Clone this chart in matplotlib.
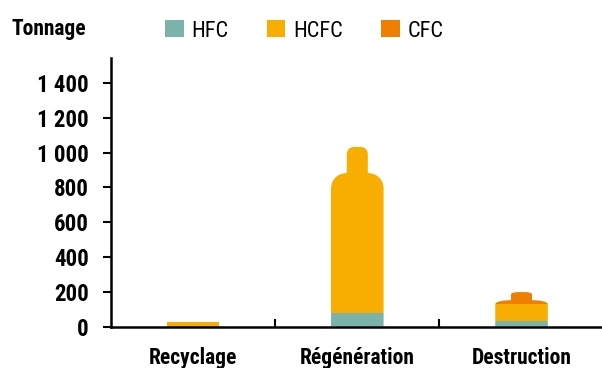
import matplotlib
matplotlib.use("Agg")
import matplotlib.pyplot as plt
import numpy as np
from matplotlib import font_manager
from matplotlib.path import Path
from matplotlib.patches import PathPatch

# data (tonnes)
categories = ["Recyclage", "Régénération", "Destruction"]
hfc = [5, 77, 30]
hcfc = [20, 956, 102]
cfc = [0, 0, 66]
yticks = [0, 200, 400, 600, 800, 1000, 1200, 1400]
ytick_labels = ["0", "200", "400", "600", "800", "1 000", "1 200", "1 400"]

colors = {"HFC": "#7AB3AA", "HCFC": "#F8AE00", "CFC": "#EE7F00"}

names = {f.name for f in font_manager.fontManager.ttflist}
FONT = next((n for n in ["Liberation Sans Narrow", "Roboto Condensed", "Roboto"]
             if n in names), "DejaVu Sans")
plt.rcParams["font.family"] = [FONT, "DejaVu Sans"]


def bottle_path(c, w, top):
    # gas cylinder outline: body, rounded shoulders, neck with rounded cap
    x0, x1 = c - w / 2, c + w / 2
    nw = w * 0.4
    n0, n1 = c - nw / 2, c + nw / 2
    neck = 0.124 * top + 22
    sh = 0.08 * top + 8
    y_nb = top - neck
    y_b = y_nb - sh
    r = neck * 0.3
    rx = nw * 0.35
    f = 0.12 * w  # small flare where shoulder meets neck
    verts = [(x0, 0), (x0, y_b),
             (x0, y_b + sh * 0.75), (n0 - f, y_nb), (n0, y_nb),
             (n0, top - r), (n0, top), (n0 + rx, top),
             (n1 - rx, top), (n1, top), (n1, top - r),
             (n1, y_nb),
             (n1 + f, y_nb), (x1, y_b + sh * 0.75), (x1, y_b),
             (x1, 0), (x0, 0)]
    codes = [Path.MOVETO, Path.LINETO,
             Path.CURVE4, Path.CURVE4, Path.CURVE4,
             Path.LINETO, Path.CURVE3, Path.CURVE3,
             Path.LINETO, Path.CURVE3, Path.CURVE3,
             Path.LINETO,
             Path.CURVE4, Path.CURVE4, Path.CURVE4,
             Path.LINETO, Path.CLOSEPOLY]
    return Path(verts, codes)


fig = plt.figure(figsize=(6.02, 3.68), dpi=100)
ax = fig.add_axes([111 / 602, 1 - 326.5 / 368, 1 - 111 / 602, (326.5 - 58) / 368])

x = np.arange(len(categories))
w = 0.32
hfc_a, hcfc_a, cfc_a = np.array(hfc), np.array(hcfc), np.array(cfc)
b1 = ax.bar(x, hfc_a, w, color=colors["HFC"], label="HFC")
b2 = ax.bar(x, hcfc_a, w, bottom=hfc_a, color=colors["HCFC"], label="HCFC")
b3 = ax.bar(x, cfc_a, w, bottom=hfc_a + hcfc_a, color=colors["CFC"], label="CFC")

totals = hfc_a + hcfc_a + cfc_a
for i, tot in enumerate(totals):
    if tot < 100:
        continue
    clip = PathPatch(bottle_path(x[i], w, tot), transform=ax.transData)
    for bars in (b1, b2, b3):
        r = bars[i]
        if bars is b3 or (bars is b2 and cfc_a[i] == 0):
            r.set_height(r.get_height() + 60)
        r.set_clip_path(clip)

ax.set_xlim(-0.5, 2.49)
ax.set_ylim(0, 1545)

for s in ["top", "right"]:
    ax.spines[s].set_visible(False)
for s in ["left", "bottom"]:
    ax.spines[s].set_linewidth(1.8)

ax.set_yticks(yticks, labels=ytick_labels, fontsize=16.5, fontweight="bold")
ax.tick_params(axis="y", direction="out", length=6, width=1.5, pad=10)

ax.set_xticks([0.5, 1.5])
ax.set_xticklabels([])
ax.tick_params(axis="x", which="major", direction="in", length=5.5, width=1.5)
ax.set_xticks(x, minor=True)
ax.set_xticklabels(categories, minor=True, fontsize=15.5, fontweight="bold")
ax.tick_params(axis="x", which="minor", length=0, pad=15)

fig.text(12 / 602, 1 - 35 / 368, "Tonnage", fontsize=15.5, fontweight="bold",
         ha="left", va="baseline")

fig.legend(handles=[b1, b2, b3], labels=["HFC", "HCFC", "CFC"],
           loc="center left", bbox_to_anchor=(165 / 602, 1 - 31 / 368),
           ncol=3, frameon=False, fontsize=16, borderpad=0, borderaxespad=0,
           handlelength=0.85, handleheight=0.8, handletextpad=0.35,
           columnspacing=1.7)

fig.savefig("out.png", dpi=100)
plt.close(fig)
